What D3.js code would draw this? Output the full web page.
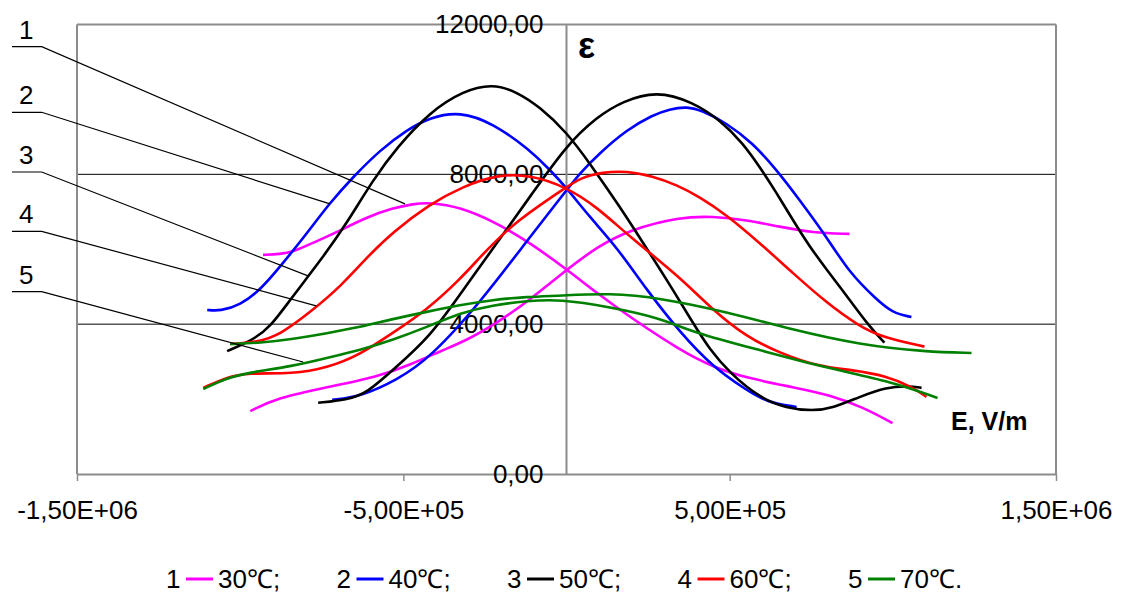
<!DOCTYPE html>
<html><head><meta charset="utf-8">
<script src="https://cdn.jsdelivr.net/npm/d3@7"></script>
<style>
html,body{margin:0;padding:0;background:#fff;}
text{font-family:"Liberation Sans",Arial,sans-serif;}
</style></head>
<body><svg id="chart" width="1125" height="596"></svg>
<script>
// ---- data (E in V/m, epsilon) ----
const seriesNames = ["30℃;", "40℃;", "50℃;", "60℃;", "70℃."];
const seriesNumbers = ["1", "2", "3", "4", "5"];
const seriesColors = ["#FF00FF", "#0000FF", "#000000", "#FF0000", "#008000"];

const t30a = [[-930000,5850],[-878000,5870],[-838000,5930],[-777000,6170],[-703000,6460],[-611000,6860],[-532000,7100],[-470000,7210],[-418000,7250],[-327000,7130],[-213000,6700],[-112000,6170],[0,5470],[93000,4830],[194000,4190],[347000,3310],[448000,2860],[552000,2560],[705000,2300],[806000,2110],[907000,1790],[999000,1360]];
const t30b = [[-969000,1680],[-887000,2030],[-734000,2320],[-581000,2590],[-480000,2910],[-379000,3310],[-317000,3520],[-213000,4030],[-112000,4650],[0,5450],[93000,6060],[194000,6520],[347000,6860],[448000,6880],[552000,6780],[653000,6600],[754000,6440],[867000,6410]];
const t40a = [[-1101000,4380],[-1061000,4350],[-1000000,4510],[-939000,4910],[-878000,5530],[-795000,6430],[-725000,7240],[-654000,7930],[-571000,8650],[-489000,9190],[-418000,9520],[-327000,9680],[-226000,9370],[-112000,8650],[-51000,8120],[0,7640],[71000,6860],[154000,6060],[246000,4910],[347000,3790],[448000,2860],[552000,2240],[613000,1920],[705000,1790]];
const t40b = [[-718000,1980],[-633000,2060],[-519000,2510],[-418000,3100],[-265000,4570],[-112000,6330],[-20000,7350],[41000,8040],[102000,8570],[184000,9185],[264000,9585],[316000,9740],[368000,9810],[417000,9700],[490000,9370],[570000,8840],[644000,8120],[714000,7320],[797000,6330],[867000,5370],[950000,4660],[999000,4300],[1057000,4190]];
const t50a = [[-1040000,3280],[-960000,3580],[-908000,3920],[-847000,4650],[-746000,5790],[-673000,6700],[-593000,7850],[-519000,8730],[-418000,9670],[-317000,10230],[-226000,10420],[-152000,10200],[-82000,9800],[0,9130],[71000,8300],[163000,7140],[234000,6180],[307000,5190],[387000,4040],[439000,3320],[500000,2700],[592000,2030],[674000,1760],[754000,1680],[816000,1760],[898000,2060],[980000,2320],[1051000,2350],[1088000,2300]];
const t50b = [[-761000,1900],[-673000,1980],[-611000,2160],[-532000,2780],[-418000,3660],[-317000,4910],[-213000,6170],[-112000,7400],[0,8780],[93000,9530],[172000,9950],[276000,10230],[387000,9930],[470000,9450],[540000,8840],[592000,8200],[644000,7500],[693000,6790],[745000,6070],[797000,5460],[867000,4660],[928000,3940],[974000,3510]];
const t60a = [[-1031000,3470],[-948000,3520],[-878000,3710],[-777000,4380],[-694000,4990],[-611000,5790],[-532000,6460],[-418000,7210],[-317000,7680],[-213000,7990],[-112000,7990],[0,7660],[93000,7130],[194000,6330],[347000,5260],[448000,4380],[552000,3660],[653000,3230],[775000,2860],[876000,2780],[980000,2620],[1060000,2320],[1103000,2060]];
const t60b = [[-1113000,2300],[-1040000,2590],[-979000,2700],[-838000,2670],[-734000,2830],[-633000,3180],[-532000,3770],[-428000,4380],[-327000,5190],[-265000,5790],[-164000,6700],[0,7660],[41000,7900],[111000,8060],[184000,8090],[264000,7950],[337000,7720],[408000,7400],[490000,6920],[592000,6170],[693000,5370],[797000,4570],[898000,3940],[968000,3650],[1097000,3400]];
const t70a = [[-1031000,3470],[-939000,3500],[-838000,3600],[-734000,3760],[-633000,3920],[-532000,4140],[-428000,4330],[-327000,4510],[-226000,4650],[-122000,4730],[-20000,4760],[133000,4830],[286000,4700],[490000,4330],[693000,3850],[898000,3450],[1103000,3260],[1241000,3230]];
const t70b = [[-1113000,2270],[-1040000,2560],[-979000,2700],[-838000,2880],[-734000,3100],[-633000,3310],[-532000,3580],[-428000,3920],[-327000,4300],[-226000,4510],[-122000,4620],[-20000,4670],[133000,4460],[286000,4170],[387000,3780],[592000,3310],[797000,2830],[999000,2460],[1137000,2030]];

const seriesBranches = [[t30a,t30b],[t40a,t40b],[t50a,t50b],[t60a,t60b],[t70a,t70b]];

const xTicks = [-1500000, -500000, 500000, 1500000];
const yTicks = [0, 4000, 8000, 12000];
const gridValues = [4000, 8000];
// callout targets (data coords) for labels 1..5
const calloutTargets = [[-495000,7210],[-725000,7210],[-792000,5290],[-767000,4490],[-807000,2990]];

// ---- layout ----
const svg = d3.select("#chart");
const pLeft = 77, pRight = 1056, pTop = 24.5, pBottom = 474;
const x = d3.scaleLinear().domain([-1500000, 1500000]).range([pLeft, pRight]);
const y = d3.scaleLinear().domain([0, 12000]).range([pBottom, pTop]);
const FONT = 26;

svg.append("rect").attr("width",1125).attr("height",596).attr("fill","#fff");

// gridlines
svg.append("g").selectAll("line").data(gridValues).join("line")
  .attr("x1", pLeft).attr("x2", pRight)
  .attr("y1", d => y(d)).attr("y2", d => y(d))
  .attr("stroke", "#000").attr("stroke-width", 1);

// frame (gray)
const gray = "#8c8c8c";
svg.append("line").attr("x1", pLeft).attr("x2", pRight).attr("y1", pTop).attr("y2", pTop).attr("stroke", gray).attr("stroke-width", 2);
svg.append("line").attr("x1", pRight).attr("x2", pRight).attr("y1", pTop).attr("y2", pBottom).attr("stroke", gray).attr("stroke-width", 2);
svg.append("line").attr("x1", pLeft).attr("x2", pLeft).attr("y1", pTop).attr("y2", pBottom).attr("stroke", gray).attr("stroke-width", 2);
// vertical axis at E=0
svg.append("line").attr("x1", x(0)).attr("x2", x(0)).attr("y1", pTop).attr("y2", pBottom).attr("stroke", gray).attr("stroke-width", 2);

// x axis
const fmtX = v => {
  let s = v.toExponential(2);
  let [m, e] = s.split("e");
  const sign = e[0];
  let digits = e.slice(1).padStart(2, "0");
  return m.replace(".", ",") + "E" + sign + digits;
};
const xAxis = svg.append("g").attr("transform", `translate(0,${pBottom})`)
  .call(d3.axisBottom(x).tickValues(xTicks).tickFormat(fmtX).tickSize(7).tickSizeOuter(0).tickPadding(20));
xAxis.select(".domain").attr("stroke", gray).attr("stroke-width", 2);
xAxis.selectAll(".tick line").attr("stroke", gray).attr("stroke-width", 1.5);
xAxis.selectAll("text").attr("font-size", FONT).attr("font-family", "Liberation Sans, Arial, sans-serif").attr("fill", "#000");

// y axis labels
const fmtY = v => v.toFixed(2).replace(".", ",");
const yAxis = svg.append("g").attr("transform", `translate(${x(0)},0)`)
  .call(d3.axisLeft(y).tickValues(yTicks).tickFormat(fmtY).tickSize(0).tickPadding(23));
yAxis.select(".domain").remove();
yAxis.selectAll("text").attr("font-size", FONT).attr("font-family", "Liberation Sans, Arial, sans-serif").attr("fill", "#000");

// curves (smoothing spline through the read points)
const line = d3.line().x(d => x(d[0])).y(d => y(d[1])).curve(d3.curveBasis);
const curveG = svg.append("g");
seriesBranches.forEach((branches, i) => {
  branches.forEach(b => {
    curveG.append("path").attr("d", line(b)).attr("fill", "none")
      .attr("stroke", seriesColors[i]).attr("stroke-width", 2.6)
      .attr("stroke-linejoin", "round").attr("stroke-linecap", "butt");
  });
});

// callouts
const calloutY = [46.7, 112.3, 172, 231.3, 291.7];
const cg = svg.append("g");
seriesNumbers.forEach((n, i) => {
  const ly = calloutY[i];
  cg.append("text").attr("x", 19).attr("y", ly - 8).attr("font-size", FONT).text(n);
  cg.append("polyline")
    .attr("points", `12,${ly} 41.7,${ly} ${x(calloutTargets[i][0])},${y(calloutTargets[i][1])}`)
    .attr("fill", "none").attr("stroke", "#000").attr("stroke-width", 1.2);
});

// axis titles
svg.append("text").attr("x", 578).attr("y", 58).attr("font-size", 36).attr("font-weight", "bold").text("ε");
svg.append("text").attr("x", 951).attr("y", 430).attr("font-size", 25).attr("font-weight", "bold").text("E, V/m");

// legend
const lg = svg.append("g");
seriesNumbers.forEach((n, i) => {
  const x0 = 166 + i * 170.5;
  lg.append("text").attr("x", x0).attr("y", 588).attr("font-size", FONT).text(n);
  lg.append("line").attr("x1", x0 + 20).attr("x2", x0 + 47).attr("y1", 579).attr("y2", 579)
    .attr("stroke", seriesColors[i]).attr("stroke-width", 3);
  lg.append("text").attr("x", x0 + 52).attr("y", 588).attr("font-size", FONT).text(seriesNames[i]);
});
</script></body></html>
